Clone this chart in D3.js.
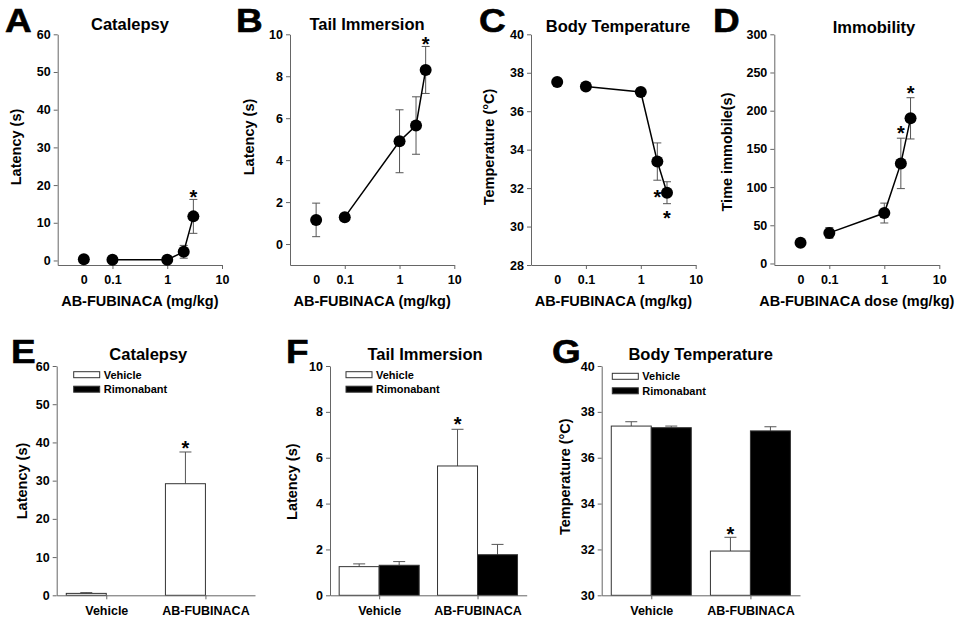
<!DOCTYPE html>
<html>
<head>
<meta charset="utf-8">
<script src="https://d3js.org/d3.v7.min.js"></script>
<style>
  body { margin: 0; background: #fff; }
  svg { font-family: Arial, "Liberation Sans", sans-serif; font-weight: bold; }
  .axis .domain, .axis line { stroke: #666; }
  .axis text { fill: #000; font-size: 12.5px; font-weight: bold; font-family: Arial, "Liberation Sans", sans-serif; }
</style>
</head>
<body>
<main></main>
<script>
// dose response (top row)
const doses = [0, 0.1, 1, 2, 3]
const doseTickValues = [0, 0.1, 1, 10]
const doseTickLabels = ['0', '0.1', '1', '10']

const catalepsyMean = [0.3, 0.2, 0.2, 2.3, 11.7]
const catalepsySem = [0, 0, 0, 1.7, 4.5]
const catalepsyStars = [[3, 18]]

const tailMean = [1.15, 1.28, 4.9, 5.65, 8.3]
const tailSem = [0.8, 0, 1.5, 1.37, 1.12]
const tailStars = [[3, 9.73]]

const tempMean = [37.52, 37.28, 37.0, 33.38, 31.76]
const tempSem = [0, 0, 0, 0.97, 0.57]
const tempStars = [[2, 31.76], [3, 30.69]]

const immobMean = [27, 40, 66, 131, 190]
const immobSem = [0, 7, 13, 33, 27]
const immobStars = [[2, 177], [3, 229]]

// rimonabant (bottom row)
const groups = ['Vehicle', 'AB-FUBINACA']
const pretreat = ['Vehicle', 'Rimonabant']

const catVehicle = [0.5, 29.2]
const catVehicleSem = [0.2, 8.3]
const catRimo = [0, 0]
const catRimoSem = [0, 0]
const catBarStars = [['AB-FUBINACA', 'Vehicle', 39.6]]

const tailVehicle = [1.25, 5.64]
const tailVehicleSem = [0.12, 1.6]
const tailRimo = [1.31, 1.77]
const tailRimoSem = [0.16, 0.45]
const tailBarStars = [['AB-FUBINACA', 'Vehicle', 7.65]]

const tempVehicle = [37.38, 31.93]
const tempVehicleSem = [0.19, 0.6]
const tempRimo = [37.31, 37.17]
const tempRimoSem = [0.07, 0.18]
const tempBarStars = [['AB-FUBINACA', 'Vehicle', 32.88]]

const latencyTicks60 = [0, 10, 20, 30, 40, 50, 60]
const latencyTicks10 = [0, 2, 4, 6, 8, 10]
const tempTicksTop = [28, 30, 32, 34, 36, 38, 40]
const tempTicksBottom = [30, 32, 34, 36, 38, 40]
const immobTicks = [0, 50, 100, 150, 200, 250, 300]

const width = 960
const height = 621
const zeroAt = 0.03   // where the "0" dose sits on the log axis

const svg = d3.select('main')
  .append('svg')
  .attr('width', width)
  .attr('height', height)

const addText = (g, x, y, txt, size, anchor = 'middle') => {
  return g.append('text')
    .attr('x', x)
    .attr('y', y)
    .attr('text-anchor', anchor)
    .style('font-size', size + 'px')
    .text(txt)
}

// panel letters are wide and heavy in the original
const addLetter = (g, x, y, txt) => {
  g.append('text')
    .attr('transform', `translate(${x},${y}) scale(1.12,1)`)
    .style('font-size', '33px')
    .style('stroke', '#000')
    .style('stroke-width', 0.6)
    .text(txt)
}

const addYLabel = (g, x, y, txt) => {
  g.append('text')
    .attr('transform', `translate(${x},${y}) rotate(-90)`)
    .attr('text-anchor', 'middle')
    .style('font-size', '14.5px')
    .text(txt)
}

const addStar = (g, x, cy) => {
  g.append('text')
    .attr('x', x)
    .attr('y', cy + 11.5)
    .attr('text-anchor', 'middle')
    .style('font-size', '20px')
    .text('*')
}

const topPanels = [
  { letter: 'A', lx: 5, title: 'Catalepsy', tx: 130, ty: 30, ylabel: 'Latency (s)', ylx: 21, yly: 147,
    xlabel: 'AB-FUBINACA (mg/kg)', left: 57.7, right: 222, yDomain: [-1.2, 60], yTicks: latencyTicks60,
    mean: catalepsyMean, sem: catalepsySem, stars: catalepsyStars },
  { letter: 'B', lx: 236, title: 'Tail Immersion', tx: 367, ty: 29.5, ylabel: 'Latency (s)', ylx: 254, yly: 137,
    xlabel: 'AB-FUBINACA (mg/kg)', left: 290, right: 454.3, yDomain: [-1, 10], yTicks: latencyTicks10,
    mean: tailMean, sem: tailSem, stars: tailStars },
  { letter: 'C', lx: 479, title: 'Body Temperature', tx: 618, ty: 32, ylabel: 'Temperature (\u00B0C)', ylx: 494, yly: 147,
    xlabel: 'AB-FUBINACA (mg/kg)', left: 531, right: 695.7, yDomain: [28, 40], yTicks: tempTicksTop,
    mean: tempMean, sem: tempSem, stars: tempStars },
  { letter: 'D', lx: 713, title: 'Immobility', tx: 874, ty: 32.5, ylabel: 'Time immobile(s)', ylx: 732, yly: 152,
    xlabel: 'AB-FUBINACA dose (mg/kg)', left: 774.3, right: 939.3, yDomain: [-2, 300], yTicks: immobTicks,
    mean: immobMean, sem: immobSem, stars: immobStars }
]

const drawDosePanel = (p) => {
  const g = svg.append('g')
  const xPos = (d) => d === 0 ? zeroAt : d
  const x = d3.scaleLog().domain([0.01, 10]).range([p.left, p.right])
  const y = d3.scaleLinear().domain(p.yDomain).range([265, 34.3])

  g.append('g')
    .attr('class', 'axis')
    .attr('transform', `translate(${p.left},0)`)
    .call(d3.axisLeft(y).tickValues(p.yTicks).tickSize(4).tickPadding(3).tickSizeOuter(0))

  const xAxis = g.append('g')
    .attr('class', 'axis')
    .attr('transform', 'translate(0,265)')
    .call(d3.axisBottom(x)
      .tickValues(doseTickValues.map(xPos))
      .tickFormat((d, i) => doseTickLabels[i])
      .tickSize(4).tickPadding(6.5).tickSizeOuter(0))
  xAxis.selectAll('.tick line').filter((d) => d === zeroAt).remove()

  const pts = doses.map((d, i) => ({ dose: d, m: p.mean[i], s: p.sem[i] }))

  // error bars
  const eb = g.append('g').attr('stroke', '#555').attr('stroke-width', 1)
  pts.filter((d) => d.s > 0).forEach((d) => {
    const cx = x(xPos(d.dose))
    eb.append('line').attr('x1', cx).attr('x2', cx).attr('y1', y(d.m + d.s)).attr('y2', y(d.m - d.s))
    eb.append('line').attr('x1', cx - 4).attr('x2', cx + 4).attr('y1', y(d.m + d.s)).attr('y2', y(d.m + d.s))
    eb.append('line').attr('x1', cx - 4).attr('x2', cx + 4).attr('y1', y(d.m - d.s)).attr('y2', y(d.m - d.s))
  })

  const line = d3.line().x((d) => x(xPos(d.dose))).y((d) => y(d.m))
  g.append('path')
    .datum(pts.filter((d) => d.dose > 0))
    .attr('d', line)
    .attr('fill', 'none')
    .attr('stroke', '#000')
    .attr('stroke-width', 1.5)

  g.selectAll('circle')
    .data(pts)
    .enter()
    .append('circle')
    .attr('cx', (d) => x(xPos(d.dose)))
    .attr('cy', (d) => y(d.m))
    .attr('r', 6)
    .attr('fill', '#000')

  p.stars.forEach((s) => addStar(g, x(xPos(s[0])), y(s[1])))

  addLetter(g, p.lx, 32, p.letter)
  addText(g, p.tx, p.ty, p.title, 16.5)
  addYLabel(g, p.ylx, p.yly, p.ylabel)
  addText(g, (p.left + p.right) / 2, 306, p.xlabel, 14.5)
}

const bottomPanels = [
  { letter: 'E', lx: 11, title: 'Catalepsy', tx: 148.3, ylabel: 'Latency (s)', ylx: 27, yly: 481,
    left: 56.7, right: 255, yDomain: [0, 60], yTicks: latencyTicks60, legX: 17, legY: 371.7,
    veh: catVehicle, vehSem: catVehicleSem, rim: catRimo, rimSem: catRimoSem, stars: catBarStars },
  { letter: 'F', lx: 286, title: 'Tail Immersion', tx: 425, ylabel: 'Latency (s)', ylx: 297, yly: 481.7,
    left: 330, right: 526.7, yDomain: [0, 10], yTicks: latencyTicks10, legX: 16, legY: 371.7,
    veh: tailVehicle, vehSem: tailVehicleSem, rim: tailRimo, rimSem: tailRimoSem, stars: tailBarStars },
  { letter: 'G', lx: 552, title: 'Body Temperature', tx: 700.7, ylabel: 'Temperature (\u00B0C)', ylx: 570, yly: 476.7,
    left: 601.7, right: 800, yDomain: [30, 40], yTicks: tempTicksBottom, legX: 10.6, legY: 373.3,
    veh: tempVehicle, vehSem: tempVehicleSem, rim: tempRimo, rimSem: tempRimoSem, stars: tempBarStars }
]

const drawBarPanel = (p) => {
  const g = svg.append('g')
  const x = d3.scalePoint().domain(groups).range([p.left, p.right]).padding(0.5)
  const sub = d3.scaleBand().domain(pretreat).range([-40, 40])
  const y = d3.scaleLinear().domain(p.yDomain).range([595.3, 366])

  const rows = []
  groups.forEach((grp, i) => {
    rows.push({ grp, pre: 'Vehicle', m: p.veh[i], s: p.vehSem[i] })
    rows.push({ grp, pre: 'Rimonabant', m: p.rim[i], s: p.rimSem[i] })
  })

  // error bars (upper only)
  const eb = g.append('g').attr('stroke', '#555').attr('stroke-width', 1)
  rows.filter((d) => d.s > 0).forEach((d) => {
    const cx = x(d.grp) + sub(d.pre) + sub.bandwidth() / 2
    eb.append('line').attr('x1', cx).attr('x2', cx).attr('y1', y(d.m)).attr('y2', y(d.m + d.s))
    eb.append('line').attr('x1', cx - 6).attr('x2', cx + 6).attr('y1', y(d.m + d.s)).attr('y2', y(d.m + d.s))
  })

  g.selectAll('rect.bar')
    .data(rows)
    .enter()
    .append('rect')
    .attr('class', 'bar')
    .attr('x', (d) => x(d.grp) + sub(d.pre))
    .attr('y', (d) => y(d.m))
    .attr('width', sub.bandwidth())
    .attr('height', (d) => y(p.yDomain[0]) - y(d.m))
    .attr('fill', (d) => d.pre === 'Vehicle' ? '#fff' : '#000')
    .attr('stroke', '#333')
    .attr('stroke-width', 1)

  g.append('g')
    .attr('class', 'axis')
    .attr('transform', `translate(${p.left},0)`)
    .call(d3.axisLeft(y).tickValues(p.yTicks).tickSize(4).tickPadding(3).tickSizeOuter(0))

  g.append('g')
    .attr('class', 'axis')
    .attr('transform', 'translate(0,595.3)')
    .call(d3.axisBottom(x).tickSize(4).tickPadding(7).tickSizeOuter(0))

  p.stars.forEach((s) => addStar(g, x(s[0]) + sub(s[1]) + sub.bandwidth() / 2, y(s[2])))

  // legend
  pretreat.forEach((name, i) => {
    const ly = p.legY + i * 14.5
    g.append('rect')
      .attr('x', p.left + p.legX)
      .attr('y', ly)
      .attr('width', 26)
      .attr('height', 6)
      .attr('fill', name === 'Vehicle' ? '#fff' : '#000')
      .attr('stroke', '#333')
    addText(g, p.left + p.legX + 30, ly + 7, name, 11, 'start')
  })

  addLetter(g, p.lx, 363, p.letter)
  addText(g, p.tx, 360, p.title, 16.5)
  addYLabel(g, p.ylx, p.yly, p.ylabel)
}

topPanels.forEach(drawDosePanel)
bottomPanels.forEach(drawBarPanel)
</script>
</body>
</html>
